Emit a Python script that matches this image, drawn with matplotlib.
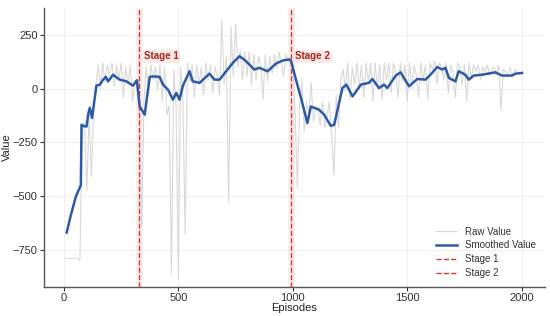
import matplotlib
matplotlib.use("Agg")
import matplotlib.pyplot as plt
import numpy as np

plt.rcParams['font.family'] = ['Liberation Sans', 'DejaVu Sans']

raw_episodes = list(range(10, 2001, 10))
raw_values = [
    -790, -790, -790, -790, -790, -790, -800, -170, -160, -470,
    -120, -410, -80, 20, 110, 0, 120, 30, 110, 60,
    120, 10, 110, 40, 120, -40, 100, 20, 110, -60,
    40, 10, -120, -640, -50, 100, -20, 110, 40, 100,
    -10, 110, -60, 100, -120, -80, -860, 90, -80, -890,
    100, -60, -680, 120, 30, 110, -40, 110, 20, 100,
    -30, 120, 40, 110, -20, 100, 60, -30, 320, 20,
    150, -530, 290, 60, 300, 100, 180, 40, 170, 60,
    170, 20, 160, 40, 150, 110, -50, 160, 30, 150,
    70, 160, 90, 170, 120, 60, 160, 130, 150, 120,
    -100, -460, -80, 40, -200, -60, -120, 30, -150, -100,
    -90, -170, -60, -180, -130, -60, -220, -400, -30, -180,
    40, 90, -10, 120, -50, 100, 20, 120, 0, 110,
    -40, 120, 30, 120, -60, 120, 0, 110, -50, 120,
    40, 120, -20, 120, 70, -40, 120, 30, 110, -60,
    120, 0, 110, 60, -40, 120, 40, 110, -50, 120,
    90, 130, 20, 120, 100, 40, 120, -20, 110, 70,
    -40, 120, 100, 20, 110, -60, 120, 50, 110, 80,
    110, 40, 100, 80, 110, 60, 90, 100, 70, 110,
    -100, 90, 80, 70, 100, 60, 90, 80, 70, 75,
]

smooth_episodes = [12, 30, 52, 74, 77, 88, 99, 106, 113, 123, 142, 157, 170, 183, 193,
                   215, 230, 244, 273, 302, 319, 331, 353, 375, 389, 418, 433, 455, 476,
                   491, 505, 520, 549, 563, 593, 636, 658, 680, 709, 738, 767, 782, 796,
                   832, 854, 890, 927, 956, 985, 992, 1014, 1036, 1064, 1079, 1115, 1137,
                   1166, 1181, 1217, 1234, 1261, 1298, 1333, 1348, 1377, 1399, 1413, 1450,
                   1471, 1508, 1544, 1580, 1602, 1631, 1653, 1667, 1682, 1711, 1725, 1754,
                   1769, 1791, 1827, 1885, 1914, 1958, 1973, 2002]
smooth_values = [-670, -590, -503, -449, -168, -175, -176, -120, -89, -136, 14, 19, 40, 55, 34,
                 65, 52, 42, 34, 14, 39, -83, -121, 55, 57, 55, 19, -5, -51,
                 -20, -51, 14, 81, 34, 27, 70, 42, 42, 81, 120, 151, 140, 128,
                 89, 97, 81, 117, 131, 136, 130, 42, -43, -160, -83, -98, -121,
                 -173, -168, 3, 19, -36, 19, 27, 45, 3, 19, 3, 61,
                 76, 11, 45, 42, 65, 101, 89, 97, 50, 34, 81, 65,
                 42, 61, 65, 76, 61, 61, 70, 73]

stages = [330, 993]
stage_labels = ['Stage 1', 'Stage 2']

fig = plt.figure(figsize=(5.5, 3.16), dpi=100)
ax = fig.add_axes([0.08, 0.092, 0.91, 0.883])

ax.plot(raw_episodes, raw_values, color='#d9d9d9', lw=0.8, label='Raw Value', zorder=2)
ax.plot(smooth_episodes, smooth_values, color='#2c5aa8', lw=1.8, label='Smoothed Value', zorder=4)

for s, lab in zip(stages, stage_labels):
    ax.axvspan(s - 15, s + 15, color='#f8d0d0', alpha=0.35, lw=0, zorder=1)
    ax.axvline(s, color='#d23a2a', ls='--', lw=1.0, label=lab, zorder=3)
    ax.text(s + 18, 150, lab, color='#a52a1a', fontsize=7, fontweight='bold',
            va='center', ha='left', zorder=5,
            bbox=dict(boxstyle='square,pad=0.2', fc='#fde6e6', ec='none', alpha=0.9))

ax.set_xlim(-87, 2100)
ax.set_ylim(-923, 376)
ax.set_xticks([0, 500, 1000, 1500, 2000])
ax.set_yticks([-750, -500, -250, 0, 250])
ax.set_yticklabels(['\u2212750', '\u2212500', '\u2212250', '0', '250'])
ax.grid(True, color='#efefef', lw=0.8, zorder=0)
ax.set_axisbelow(True)
for sp in ['top', 'right']:
    ax.spines[sp].set_visible(False)
for sp in ['left', 'bottom']:
    ax.spines[sp].set_color('#555555')
    ax.spines[sp].set_linewidth(1.0)
ax.tick_params(labelsize=8, colors='#333333', length=3, width=0.8, pad=1.5)
ax.set_xlabel('Episodes', fontsize=8, color='#222222')
ax.set_ylabel('Value', fontsize=8, color='#222222')
ax.xaxis.set_label_coords(0.5, -0.075)
ax.yaxis.set_label_coords(-0.074, 0.5)
ax.xaxis.label.set_va('center')
ax.yaxis.label.set_va('center')

leg = ax.legend(loc='lower right', frameon=False, fontsize=7, handlelength=2.2,
                labelspacing=0.4, borderaxespad=0.5)
for t in leg.get_texts():
    t.set_color('#333333')

fig.savefig('out.png', dpi=100)
